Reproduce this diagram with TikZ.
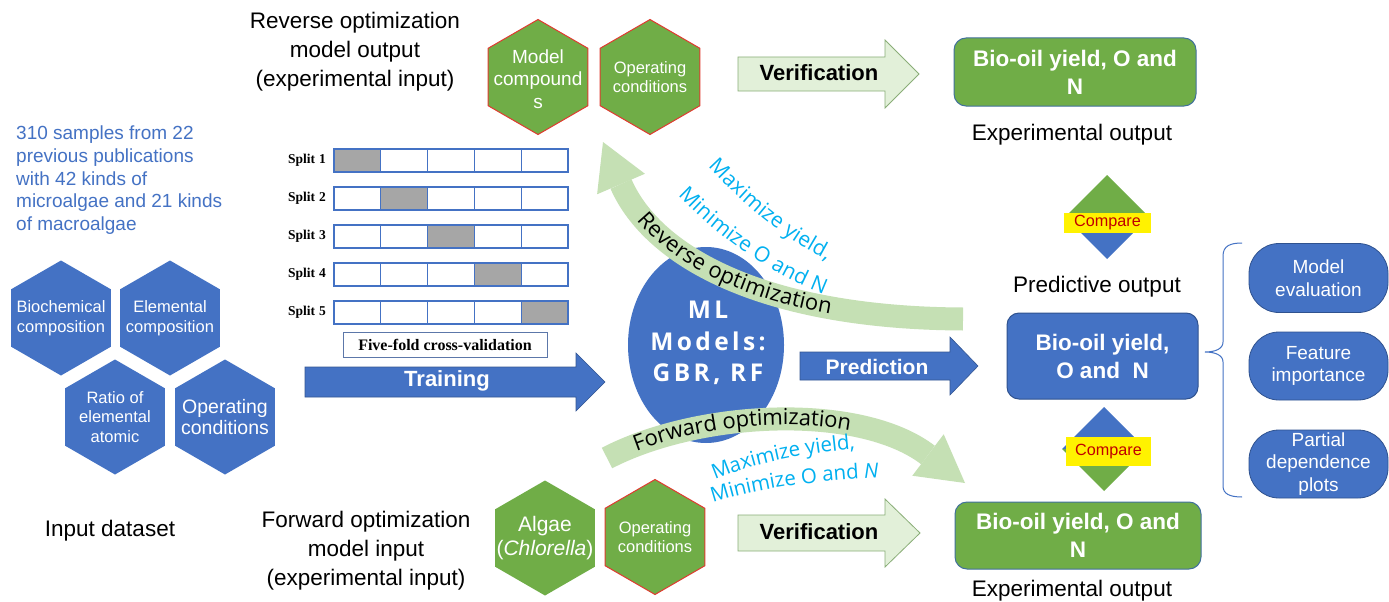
\documentclass[tikz,border=0pt]{standalone}
\usepackage{fontspec}
\setmainfont{Liberation Sans}
\newfontfamily\tnr{Liberation Serif}
\newfontfamily\osans{Open Sans}
\usetikzlibrary{shapes.geometric,calc,decorations.text}
\definecolor{mblue}{HTML}{4472C4}
\definecolor{dblue}{HTML}{2F528F}
\definecolor{mgreen}{HTML}{70AD47}
\definecolor{lgreen}{HTML}{C5E0B4}
\definecolor{vgreen}{HTML}{E2F0D9}
\definecolor{vborder}{HTML}{8AAE78}
\definecolor{cyantx}{HTML}{00B0F0}
\definecolor{cmpred}{HTML}{C00000}
\definecolor{hexred}{HTML}{E03A30}
\definecolor{gborder}{HTML}{41719C}
\definecolor{cellgray}{HTML}{A6A6A6}
\newcommand\blockarrow[7]{%
  \path[#7] (#1,{#4-#5}) -- (#2,{#4-#5}) -- (#2,{#4-#6}) -- (#3,#4) -- (#2,{#4+#6}) -- (#2,{#4+#5}) -- (#1,{#4+#5}) -- cycle;}
\tikzset{
  hexb/.style={regular polygon, regular polygon sides=6, shape border rotate=30, minimum size=115pt, inner sep=0pt, fill=mblue},
  hexg/.style={hexb, fill=mgreen},
  hexgr/.style={hexg, draw=hexred, line width=1pt},
  hext/.style={text=white, align=center, inner sep=0pt, font=\fontsize{16.5}{19.5}\selectfont},
  lbl/.style={inner sep=0pt, align=center, font=\fontsize{22.5}{29}\selectfont},
  blk/.style={fill=mblue, draw=mblue!75!black, line width=0.6pt},
  verif/.style={fill=vgreen, draw=vborder, line width=0.8pt},
  arrtext/.style={inner sep=0pt, font=\bfseries\fontsize{22}{26}\selectfont},
  cell/.style={draw=mblue, line width=1.3pt, minimum width=46.8pt, minimum height=23pt, inner sep=0pt},
  splitlab/.style={inner sep=0pt, font=\tnr\bfseries\fontsize{13.5}{16}\selectfont},
  band/.style={draw=lgreen, line width=23pt, line cap=butt},
  gbox/.style={rounded corners=12pt, fill=mgreen, draw=gborder, line width=1pt, text=white, align=center, inner sep=0pt, font=\bfseries\fontsize{22.5}{28}\selectfont},
  bbox/.style={gbox, fill=mblue, draw=dblue},
  rbox/.style={rounded corners=30pt, fill=mblue, draw=dblue, line width=0.8pt, text=white, align=center, inner sep=0pt, font=\fontsize{19}{22.5}\selectfont, minimum width=139pt, minimum height=69pt},
  cmp/.style={fill=yellow, text=cmpred, inner sep=0pt, font=\fontsize{16.2}{18}\selectfont}
}
\begin{document}
\begin{tikzpicture}[x=1pt,y=-1pt]
\useasboundingbox (0,0) rectangle (1389,602);
\fill[white] (0,0) rectangle (1389,602);

% ---------- left description ----------
\node[anchor=north west, align=left, text=mblue, inner sep=0pt, font=\fontsize{19}{22.6}\selectfont] (desc) at (16,126)
  {310 samples from 22\\previous publications\\with 42 kinds of\\microalgae and 21 kinds\\of macroalgae};

% ---------- input hexagons ----------
\node[hexb] (hbio) at (61,318) {};
\node[hext] (tbio) at (hbio) {Biochemical\\composition};
\node[hexb] (hele) at (170,318) {};
\node[hext] (tele) at (hele) {Elemental\\composition};
\node[hexb] (hrat) at (115,417) {};
\node[hext] (trat) at (hrat) {Ratio of\\elemental\\atomic};
\node[hexb] (hopl) at (225,417) {};
\node[hext, font=\fontsize{19.5}{21}\selectfont] (topl) at (hopl) {Operating\\conditions};
\node[lbl] (inds) at (110,531) {Input dataset};

% ---------- top / bottom labels ----------
\node[lbl] (revlab) at (355,52) {Reverse optimization\\model output\\(experimental input)};
\node[lbl] (fwdlab) at (366,551) {Forward optimization\\model input\\(experimental input)};

% ---------- split table ----------
\foreach \r in {1,...,5}{
  \pgfmathsetmacro\yy{160.5+(\r-1)*38}
  \node[splitlab, anchor=east] (s\r) at (326,\yy) {Split\hspace{4pt}\r};
  \foreach \c in {1,...,5}{
    \pgfmathsetmacro\xx{334+(\c-0.5)*46.8}
    \node[cell, fill=white] (c\r-\c) at (\xx,\yy) {};
  }
}
\foreach \r in {1,...,5}{
  \pgfmathsetmacro\yy{160.5+(\r-1)*38}
  \pgfmathsetmacro\xx{334+(\r-0.5)*46.8}
  \node[cell, fill=cellgray] (g\r) at (\xx,\yy) {};
}
\node[draw=mblue!60!gray, line width=0.8pt, minimum width=204pt, minimum height=25pt, inner sep=0pt,
      font=\tnr\bfseries\fontsize{16}{18}\selectfont] (five) at (445,345) {Five-fold cross-validation};

% ---------- training arrow ----------
\blockarrow{305}{576}{605}{382}{15}{29}{blk}
\node[arrtext, text=white] (trtx) at (447,381) {Training};

% ---------- ML ellipse ----------
\node[ellipse, fill=mblue, minimum width=156pt, minimum height=196pt, inner sep=0pt] (ml) at (706,345) {};
\node[text=white, align=center, inner sep=0pt, font=\osans\bfseries\fontsize{24.5}{31.5}\selectfont\addfontfeature{LetterSpace=14}] (mltx) at (708,343) {ML\\Models:\\GBR, RF};

% ---------- prediction arrow ----------
\blockarrow{800}{950}{978}{366}{14}{29}{blk}
\node[arrtext, text=white, font=\bfseries\fontsize{21}{24}\selectfont] (prtx) at (877,367) {Prediction};

% ---------- reverse optimization band ----------
\coordinate (rS) at (963,319);
\coordinate (rB) at (621,184);
\coordinate (rT) at (603,142);
\draw[band] (rS) .. controls (760,318) and (652,255) .. (rB);
\fill[lgreen] (rT) -- ($(rB)!26pt!90:(rT)$) -- ($(rB)!26pt!-90:(rT)$) -- cycle;
\path[decorate, decoration={text along path, text={|\osans\fontsize{22}{24}\selectfont|Reverse optimization}, text align={left, left indent=38pt}, raise=-6pt}]
  (rB) .. controls (652,255) and (760,318) .. (rS);
\path[decorate, decoration={text along path, text={|\osans\fontsize{21}{24}\selectfont\color{cyantx}|Maximize yield,}, text align=center, raise=-7pt}]
  (697,144) .. controls (742,196) and (794,241) .. (852,264);
\path[decorate, decoration={text along path, text={|\osans\fontsize{21}{24}\selectfont\color{cyantx}|Minimize O and N}, text align=center, raise=-7pt}]
  (666,172) .. controls (716,230) and (780,274) .. (850,296);

% ---------- forward optimization band ----------
\coordinate (fS) at (607,458);
\coordinate (fB) at (928,455);
\coordinate (fT) at (965,483);
\draw[band] (fS) .. controls (700,410) and (860,403) .. (fB);
\fill[lgreen] (fT) -- ($(fB)!26pt!90:(fT)$) -- ($(fB)!26pt!-90:(fT)$) -- cycle;
\path[decorate, decoration={text along path, text={|\osans\fontsize{22}{24}\selectfont|Forward optimization}, text align={left, left indent=30pt}, raise=-6pt}]
  (fS) .. controls (700,410) and (860,403) .. (fB);
\path[decorate, decoration={text along path, text={|\osans\fontsize{20.5}{24}\selectfont\color{cyantx}|Maximize yield,}, text align=center, raise=-7pt}]
  (700,479) .. controls (740,459) and (800,445) .. (868,441);
\path[decorate, decoration={text along path, text={|\osans\fontsize{20.5}{24}\selectfont\color{cyantx}|Minimize O and |\osans\fontsize{20.5}{24}\selectfont\color{cyantx}\itshape|N}, text align=center, raise=-7pt}]
  (698,501) .. controls (745,483) and (810,473) .. (892,470);

% ---------- experimental input hexagons ----------
\node[hexgr] (hmc) at (538,77) {};
\node[hext, font=\fontsize{19}{22.5}\selectfont] (tmc) at (538,79) {Model\\compound\\s};
\node[hexgr] (hoc1) at (650,77) {};
\node[hext] (toc1) at (hoc1) {Operating\\conditions};
\node[hexg] (halg) at (545,538) {};
\node[hext, font=\fontsize{21}{24}\selectfont] (talg) at (halg) {Algae\\(\textit{Chlorella})};
\node[hexgr] (hoc2) at (655,537) {};
\node[hext] (toc2) at (hoc2) {Operating\\conditions};

% ---------- verification arrows ----------
\blockarrow{738}{885}{919}{74}{17}{34}{verif}
\node[arrtext] (ver1) at (819,73) {Verification};
\blockarrow{738}{885}{920}{533}{18}{34}{verif}
\node[arrtext] (ver2) at (819,532) {Verification};

% ---------- output boxes ----------
\node[gbox, minimum width=242pt, minimum height=68pt] (gtop) at (1075,72) {Bio-oil yield, O and\\N};
\node[lbl] (exp1) at (1072,135) {Experimental output};
\node[bbox, minimum width=191pt, minimum height=86pt] (bmid) at (1102.5,356) {Bio-oil yield,\\O and\ \ N};
\node[lbl] (pred) at (1097,287) {Predictive output};
\node[gbox, minimum width=246pt, minimum height=67pt] (gbot) at (1078,535.5) {Bio-oil yield, O and\\N};
\node[lbl] (exp2) at (1072,591) {Experimental output};

% ---------- compare diamonds ----------
\coordinate (dtop) at (1107,217);
\fill[mgreen] (dtop) ++(-42,0) -- ++(42,-42) -- ++(42,42) -- cycle;
\fill[mblue] (dtop) ++(-42,0) -- ++(42,42) -- ++(42,-42) -- cycle;
\node[cmp, minimum width=87pt, minimum height=20pt] (cmp1) at (1107.5,223) {Compare};
\coordinate (dbot) at (1104,449);
\fill[mblue] (dbot) ++(-42,0) -- ++(42,-42) -- ++(42,42) -- cycle;
\fill[mgreen] (dbot) ++(-42,0) -- ++(42,42) -- ++(42,-42) -- cycle;
\node[cmp, minimum width=85pt, minimum height=29pt] (cmp2) at (1108.5,451.5) {Compare};

% ---------- brace ----------
\coordinate (brT) at (1242,243);
\coordinate (brM) at (1205,352);
\coordinate (brB) at (1242,497);
\draw[mblue, line width=1pt] (brT) .. controls (1230,243) and (1223,246) .. (1223,256) -- (1223,342)
  .. controls (1223,349) and (1215,352) .. (brM) .. controls (1215,352) and (1223,355) .. (1223,362)
  -- (1223,486) .. controls (1223,494) and (1230,497) .. (brB);

% ---------- evaluation boxes ----------
\node[rbox] (me) at (1318.5,278) {Model\\evaluation};
\node[rbox, minimum height=68pt] (fi) at (1318.5,366) {Feature\\importance};
\node[rbox, minimum height=68pt] (pd) at (1318.5,464) {Partial\\dependence\\plots};
\end{tikzpicture}
\end{document}
